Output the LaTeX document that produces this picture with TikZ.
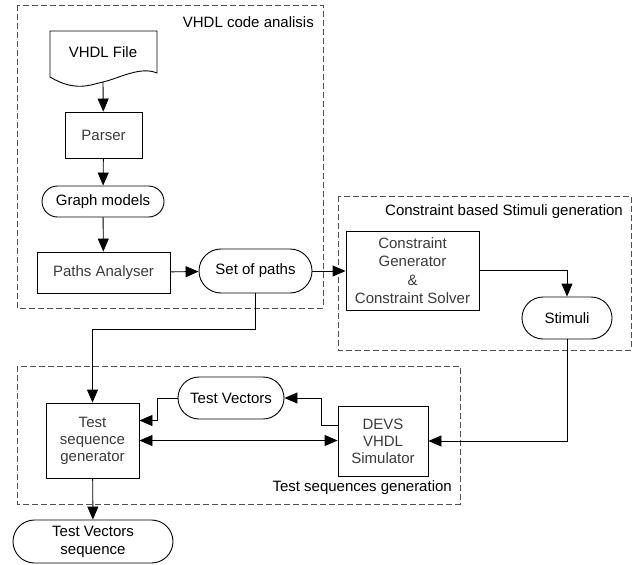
\documentclass[tikz,border=0pt]{standalone}
\usepackage{fontspec}
\setmainfont{Liberation Sans}
\usetikzlibrary{shapes.misc,arrows.meta}
\definecolor{txtgray}{HTML}{3A3A3A}
\definecolor{grpgray}{HTML}{505050}
\begin{document}
\begin{tikzpicture}[x=1pt,y=-1pt,
  every node/.style={font=\fontsize{15}{17}\selectfont, inner sep=0pt},
  box/.style={draw, line width=0.9pt, align=center, text=txtgray},
  term/.style={draw, line width=0.9pt, rounded rectangle, align=center},
  grp/.style={draw=grpgray, line width=0.9pt, dash pattern=on 6pt off 3pt},
  tipA/.style={Triangle[length=13pt,width=11pt]},
  arr/.style={line width=0.9pt, -{Triangle[length=13pt,width=11pt]}},
  arrboth/.style={line width=0.9pt, {Triangle[length=13pt,width=11pt]}-{Triangle[length=13pt,width=11pt]}},
  lbl/.style={anchor=east}]
\useasboundingbox (0,0) rectangle (636,564);
% groups
\draw[grp] (17,5) rectangle (323,308);
\node[lbl] (g1) at (314,22) {VHDL code analisis};
\draw[grp] (338,196) rectangle (631,350);
\node[lbl] (g2) at (623,212) {Constraint based Stimuli generation};
\draw[grp] (17,366) rectangle (460,504);
\node[lbl] (g3) at (452,488) {Test sequences generation};
% document shape
\draw[line width=0.9pt] (50,77) -- (50,31) -- (157,31) -- (157,73)
  .. controls (140,66) and (120,78) .. (103,82)
  .. controls (90,85) and (75,92) .. (50,77) -- cycle;
\node (file) at (103,52) {VHDL File};
\coordinate (docb) at (103,82);
% nodes
\node[box, minimum width=77pt, minimum height=46pt] (parser) at (103.5,135) {Parser};
\node[term, minimum width=122pt, minimum height=31pt] (graph) at (103,201.5) {Graph models};
\node[box, minimum width=133pt, minimum height=41pt] (paths) at (103.5,272.5) {Paths Analyser};
\node[term, minimum width=113pt, minimum height=44pt] (set) at (255.5,271) {Set of paths};
\node[box, minimum width=133pt, minimum height=79pt, font=\fontsize{15}{18.5}\selectfont] (cons) at (412.5,270.5) {Constraint\\Generator\\\&\\Constraint Solver};
\node[term, minimum width=90pt, minimum height=42pt] (stim) at (567,318) {Stimuli};
\node[box, minimum width=93pt, minimum height=75pt, font=\fontsize{15}{17}\selectfont] (tsg) at (92.5,440.5) {Test\\sequence\\generator};
\node[term, minimum width=106pt, minimum height=42pt] (tv) at (231,398) {Test Vectors};
\node[box, minimum width=90pt, minimum height=70pt, font=\fontsize{15}{17}\selectfont] (devs) at (383,441) {DEVS\\VHDL\\Simulator};
\node[term, minimum width=160pt, minimum height=43pt, font=\fontsize{15}{18}\selectfont] (tvs) at (93,541.5) {Test Vectors\\sequence};
% connectors
\draw[arr] (docb) -- (parser);
\draw[arr] (parser) -- (graph);
\draw[arr] (graph) -- (paths);
\draw[arr] (paths) -- (set);
\draw[arr] (set.east) -- (set.east -| cons.west);
\draw[arr] (cons.east) -| (stim.north);
\coordinate (j1) at (255.5,329);
\draw[arr] (set.south) -- (j1) -| (tsg.north);
\draw[arr] (stim.south) |- (devs.east);
\draw[arr] ([yshift=16pt]devs.west) -- ++(-16,0) |- (tv.east);
\draw[arr] (tv.west) -- ++(-20,0) |- ([yshift=20pt]tsg.east);
\draw[arrboth] (tsg.east) -- (tsg.east -| devs.west);
\draw[arr] (tsg) -- (tvs);
\end{tikzpicture}
\end{document}
